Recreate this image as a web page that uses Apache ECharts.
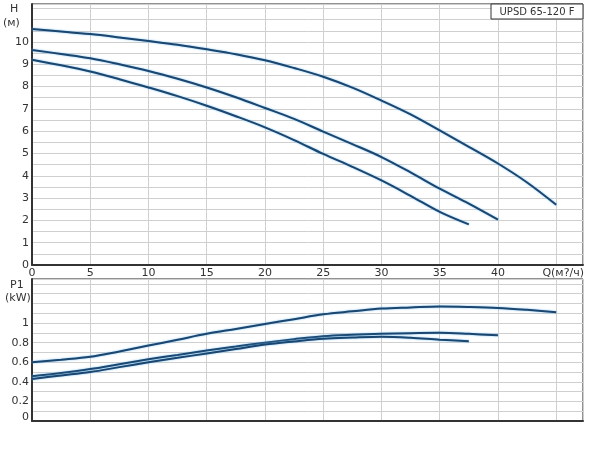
<!DOCTYPE html>
<html><head><meta charset="utf-8">
<script src="https://cdn.jsdelivr.net/npm/echarts@6/dist/echarts.min.js"></script>
<style>html,body{margin:0;padding:0;background:#fff}#c{width:600px;height:455px}</style>
</head><body><div id="c"></div>
<script>
// Flow Q (m3/h) and head H (m) for three speed curves
const qA = [0, 2.5, 5, 7.5, 10, 12.5, 15, 17.5, 20, 22.5, 25, 27.5, 30, 32.5, 35, 37.5, 40, 42.5, 45];
const hA = [10.58, 10.47, 10.35, 10.2, 10.04, 9.87, 9.67, 9.45, 9.18, 8.83, 8.44, 7.95, 7.37, 6.75, 6.03, 5.3, 4.55, 3.7, 2.7];
const qB = [0, 2.5, 5, 7.5, 10, 12.5, 15, 17.5, 20, 22.5, 25, 27.5, 30, 32.5, 35, 37.5, 40];
const hB = [9.64, 9.46, 9.27, 9.0, 8.7, 8.35, 7.96, 7.52, 7.04, 6.55, 5.98, 5.42, 4.84, 4.15, 3.42, 2.75, 2.03];
const qC = [0, 2.5, 5, 7.5, 10, 12.5, 15, 17.5, 20, 22.5, 25, 27.5, 30, 32.5, 35, 37.5];
const hC = [9.2, 8.95, 8.67, 8.33, 7.96, 7.57, 7.14, 6.67, 6.17, 5.6, 4.98, 4.4, 3.79, 3.1, 2.38, 1.82];
// Power P1 (kW)
const pA = [0.60, 0.625, 0.655, 0.71, 0.77, 0.83, 0.89, 0.94, 0.99, 1.04, 1.09, 1.12, 1.148, 1.16, 1.17, 1.165, 1.155, 1.135, 1.11];
const pB = [0.457, 0.49, 0.53, 0.58, 0.63, 0.675, 0.72, 0.76, 0.80, 0.835, 0.865, 0.88, 0.89, 0.897, 0.90, 0.89, 0.875];
const pC = [0.43, 0.465, 0.50, 0.55, 0.60, 0.645, 0.69, 0.735, 0.78, 0.812, 0.84, 0.852, 0.86, 0.85, 0.83, 0.815];
const xTicks = [0, 5, 10, 15, 20, 25, 30, 35, 40];
const xUnitLabel = 'Q(м?/ч)';
const hTitle = ['H', '(м)'];
const pTitle = ['P1', '(kW)'];
const boxTitle = 'UPSD 65-120 F';

const pair = (q, v) => q.map((x, i) => [x, v[i]]);
const FONT = 'DejaVu Sans';
const LINE = '#1a466f';
const GRID = '#cfcfcf';
const lineSeries = (q, v, xi, yi) => ({
  type: 'line', xAxisIndex: xi, yAxisIndex: yi, data: pair(q, v), smooth: 0.35,
  showSymbol: false, silent: true,
  lineStyle: { color: LINE, width: 2, shadowColor: 'rgba(110,185,240,0.9)', shadowBlur: 2 }
});

const chart = echarts.init(document.getElementById('c'), null, { renderer: 'canvas' });
const xMax = 47.3;
chart.setOption({
  animation: false,
  backgroundColor: '#fff',
  grid: [
    { left: 32, top: 4, width: 551, height: 261, show: true, borderColor: '#222', borderWidth: 1 },
    { left: 32, top: 279, width: 551, height: 142, show: true, borderColor: '#222', borderWidth: 1 }
  ],
  xAxis: [
    { gridIndex: 0, type: 'value', min: 0, max: xMax, interval: 5,
      axisLine: { show: true, onZero: false, lineStyle: { color: '#333', width: 2 } },
      axisTick: { show: false },
      axisLabel: { fontFamily: FONT, fontSize: 11, color: '#333', margin: 3,
        formatter: v => (v === 45 ? '{q|' + xUnitLabel + '}' : (xTicks.indexOf(v) >= 0 ? String(v) : '')),
        rich: { q: { fontFamily: FONT, fontSize: 11, color: '#333', padding: [0, 0, 0, 14] } } },
      splitLine: { show: true, lineStyle: { color: GRID, width: 1 } } },
    { gridIndex: 1, type: 'value', min: 0, max: xMax, interval: 5,
      axisLine: { show: true, onZero: false, lineStyle: { color: '#333', width: 2 } },
      axisTick: { show: false }, axisLabel: { show: false },
      splitLine: { show: true, lineStyle: { color: GRID, width: 1 } } }
  ],
  yAxis: [
    { gridIndex: 0, type: 'value', min: 0, max: 11.7, interval: 1,
      axisLine: { show: true, onZero: false, lineStyle: { color: '#333', width: 2 } },
      axisTick: { show: false },
      axisLabel: { fontFamily: FONT, fontSize: 11, color: '#333', margin: 3,
        formatter: v => (v <= 10 && Number.isInteger(v) ? String(v) : '') },
      splitLine: { show: true, lineStyle: { color: GRID } },
      minorTick: { show: false, splitNumber: 2 },
      minorSplitLine: { show: true, lineStyle: { color: GRID } } },
    { gridIndex: 1, type: 'value', min: 0, max: 1.45, interval: 0.2,
      axisLine: { show: true, onZero: false, lineStyle: { color: '#333', width: 2 } },
      axisTick: { show: false },
      axisLabel: { fontFamily: FONT, fontSize: 11, color: '#333', margin: 3,
        formatter: v => (v === 0 ? '{z|0}' : (v <= 1.001 ? String(+v.toFixed(1)) : '')),
        rich: { z: { fontFamily: FONT, fontSize: 11, color: '#333', padding: [0, 0, 8, 0] } } },
      splitLine: { show: true, lineStyle: { color: GRID } },
      minorTick: { show: false, splitNumber: 2 },
      minorSplitLine: { show: true, lineStyle: { color: GRID } } }
  ],
  series: [
    lineSeries(qA, hA, 0, 0), lineSeries(qB, hB, 0, 0), lineSeries(qC, hC, 0, 0),
    lineSeries(qA, pA, 1, 1), lineSeries(qB, pB, 1, 1), lineSeries(qC, pC, 1, 1)
  ],
  graphic: [
    { type: 'text', left: 10, top: 4, style: { text: hTitle[0], font: '11px ' + FONT, fill: '#333' } },
    { type: 'text', left: 3, top: 18, style: { text: hTitle[1], font: '11px ' + FONT, fill: '#333' } },
    { type: 'text', left: 10, top: 280, style: { text: pTitle[0], font: '11px ' + FONT, fill: '#333' } },
    { type: 'text', left: 5, top: 293, style: { text: pTitle[1], font: '11px ' + FONT, fill: '#333' } },
    { type: 'rect', shape: { x: 491, y: 4, width: 92, height: 15 },
      style: { fill: '#fff', stroke: '#333', lineWidth: 1 }, z: 10 },
    { type: 'text', x: 537, y: 12, z: 11,
      style: { text: boxTitle, font: '10px ' + FONT, fill: '#333', align: 'center', verticalAlign: 'middle' } }
  ]
});
</script></body></html>
